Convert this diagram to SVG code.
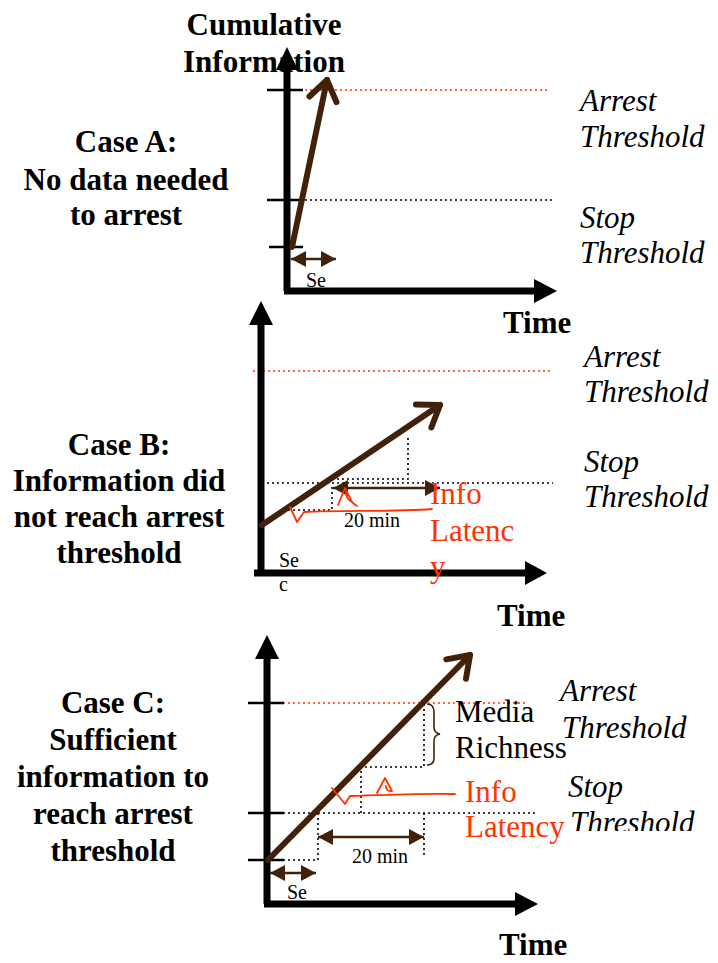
<svg xmlns="http://www.w3.org/2000/svg" width="718" height="963" viewBox="0 0 718 963">
<style>
text{font-family:"Liberation Serif","Times New Roman",serif;fill:#000}
.lbl{font-size:31px;font-weight:bold;text-anchor:middle}
.time{font-size:31px;font-weight:bold}
.thr{font-size:31px;font-style:italic}
.note{font-size:31px}
.small{font-size:20px}
text.red{fill:#ff3300}
.axis{stroke:#000;stroke-width:7;fill:none}
.head{fill:#000}
.tick{stroke:#000;stroke-width:2.5}
.dotr{stroke:#ff3300;stroke-width:1.6;stroke-dasharray:2 3;fill:none}
.dotk{stroke:#000;stroke-width:1.6;stroke-dasharray:2 3;fill:none}
.trend{stroke:#42210b;stroke-width:6;fill:none;stroke-linecap:round;marker-end:url(#chev)}
.span{stroke:#42210b;stroke-width:2.5;marker-start:url(#tri);marker-end:url(#tri)}
.brace{stroke:#42210b;stroke-width:1.6;fill:none}
.scrib{stroke:#ff3300;stroke-width:1.8;fill:none;stroke-linecap:round;stroke-linejoin:round}
</style>
<defs>
  <marker id="chev" markerUnits="userSpaceOnUse" viewBox="-26 -18 32 36" markerWidth="32" markerHeight="36" refX="0" refY="0" orient="auto">
    <path d="M-19.7,-13.8 L0,0 L-19.7,13.8" fill="none" stroke="#42210b" stroke-width="6" stroke-linecap="round" stroke-linejoin="round"/>
  </marker>
  <marker id="tri" markerUnits="userSpaceOnUse" viewBox="0 0 15 16" markerWidth="15" markerHeight="16" refX="15" refY="8" orient="auto-start-reverse">
    <path d="M0,0 L15,8 L0,16z" fill="#42210b"/>
  </marker>
  <clipPath id="cut"><rect x="540" y="600" width="178" height="231"/></clipPath>
</defs>

<!-- Case A -->
<g id="caseA">
  <text class="lbl" x="264" y="35">Cumulative</text>
  <text class="lbl" x="264" y="72">Information</text>
  <text class="lbl" x="126" y="152">Case A:</text>
  <text class="lbl" x="126" y="190">No data needed</text>
  <text class="lbl" x="126" y="225">to arrest</text>
  <line class="dotr" x1="290" y1="90" x2="548" y2="90"/>
  <line class="dotk" x1="305" y1="200" x2="555" y2="200"/>
  <line class="tick" x1="267" y1="90" x2="303" y2="90"/>
  <line class="tick" x1="267" y1="200" x2="300" y2="200"/>
  <line class="tick" x1="269" y1="247" x2="303" y2="247"/>
  <line class="axis" x1="287" y1="291" x2="287" y2="66"/>
  <polygon class="head" points="287,47 276,70 298,70"/>
  <line class="axis" x1="284" y1="291" x2="538" y2="291"/>
  <polygon class="head" points="557,291 534,279 534,303"/>
  <line class="trend" x1="292" y1="247" x2="327" y2="80"/>
  <line class="span" x1="291" y1="259" x2="336" y2="259"/>
  <text class="small" x="306" y="287">Se</text>
  <text class="time" x="503" y="333">Time</text>
  <text class="thr" x="580" y="111">Arrest</text>
  <text class="thr" x="580" y="147">Threshold</text>
  <text class="thr" x="580" y="228">Stop</text>
  <text class="thr" x="580" y="263">Threshold</text>
</g>

<!-- Case B -->
<g id="caseB">
  <text class="lbl" x="119" y="455">Case B:</text>
  <text class="lbl" x="119" y="491">Information did</text>
  <text class="lbl" x="119" y="527">not reach arrest</text>
  <text class="lbl" x="119" y="563">threshold</text>
  <line class="dotr" x1="253" y1="371" x2="550" y2="371"/>
  <line class="dotk" x1="267" y1="483" x2="553" y2="483"/>
  <polyline class="dotk" points="327,479 408,479 408,438"/>
  <polyline class="dotk" points="288,510 332,510 332,484"/>
  <line class="axis" x1="261" y1="573" x2="261" y2="320"/>
  <polygon class="head" points="261,301 249,325 273,325"/>
  <line class="axis" x1="254" y1="573" x2="528" y2="573"/>
  <polygon class="head" points="547,573 525,561 525,585"/>
  <line class="trend" x1="262" y1="525" x2="440" y2="405"/>
  <line class="span" x1="333" y1="488" x2="440" y2="488"/>
  <text class="small" x="344" y="527">20 min</text>
  <text class="small" x="279" y="567">Se</text>
  <text class="small" x="279" y="591">c</text>
  <path class="scrib" d="M432,509 C400,512 340,510 304,512 L297,522 L290,507"/>
  <path class="scrib" d="M338,505 L345,488 L352,502 C355,505 357,506 357,506 M352,502 C348,500 346,496 346,492"/>
  <text class="note red" x="430" y="504">Info</text>
  <text class="note red" x="430" y="541">Latenc</text>
  <text class="note red" x="430" y="577">y</text>
  <text class="time" x="497" y="626">Time</text>
  <text class="thr" x="584" y="367">Arrest</text>
  <text class="thr" x="584" y="402">Threshold</text>
  <text class="thr" x="584" y="472">Stop</text>
  <text class="thr" x="584" y="507">Threshold</text>
</g>

<!-- Case C -->
<g id="caseC">
  <text class="lbl" x="113" y="713">Case C:</text>
  <text class="lbl" x="113" y="750">Sufficient</text>
  <text class="lbl" x="113" y="787">information to</text>
  <text class="lbl" x="113" y="824">reach arrest</text>
  <text class="lbl" x="113" y="861">threshold</text>
  <line class="dotr" x1="283" y1="703" x2="528" y2="703"/>
  <line class="dotk" x1="283" y1="813" x2="538" y2="813"/>
  <polyline class="dotk" points="283,860 318,860 318,813"/>
  <polyline class="dotk" points="361,813 361,767 424,767 424,703"/>
  <line class="dotk" x1="424" y1="813" x2="424" y2="857"/>
  <line class="tick" x1="248" y1="703" x2="284" y2="703"/>
  <line class="tick" x1="248" y1="813" x2="284" y2="813"/>
  <line class="tick" x1="248" y1="860" x2="284" y2="860"/>
  <line class="axis" x1="267" y1="904" x2="267" y2="655"/>
  <polygon class="head" points="267,635 255,659 279,659"/>
  <line class="axis" x1="264" y1="904" x2="518" y2="904"/>
  <polygon class="head" points="538,904 515,892 515,916"/>
  <line class="trend" x1="268" y1="860" x2="470" y2="655"/>
  <path class="brace" d="M427,704 Q434,704 434,712 L434,727 Q434,733 440,734 Q434,735 434,741 L434,758 Q434,765 427,765"/>
  <line class="span" x1="318" y1="837" x2="424" y2="837"/>
  <text class="small" x="352" y="863">20 min</text>
  <line class="span" x1="270" y1="873" x2="316" y2="873"/>
  <text class="small" x="287" y="899">Se</text>
  <path class="scrib" d="M455,794 C420,793 380,795 350,796 L345,804 L332,788"/>
  <path class="scrib" d="M377,793 L385,778 L392,791 C389,792 386,790 386,786"/>
  <text class="note" x="455" y="722">Media</text>
  <text class="note" x="455" y="758">Richness</text>
  <text class="note red" x="465" y="802">Info</text>
  <text class="note red" x="465" y="837">Latency</text>
  <text class="thr" x="560" y="701">Arrest</text>
  <text class="thr" x="562" y="738">Threshold</text>
  <text class="thr" x="568" y="797">Stop</text>
  <text class="thr" x="570" y="833" clip-path="url(#cut)">Threshold</text>
  <text class="time" x="499" y="955">Time</text>
</g>
</svg>
